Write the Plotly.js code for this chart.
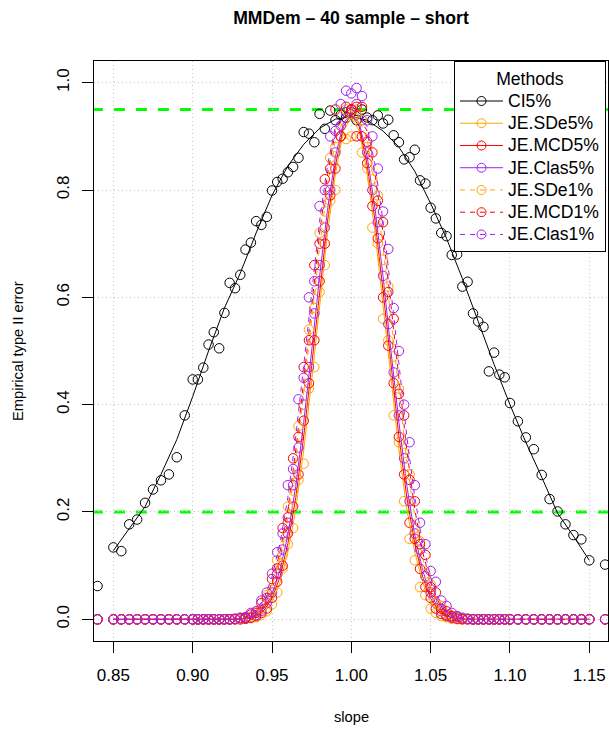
<!DOCTYPE html>
<html>
<head>
<meta charset="utf-8">
<script src="https://cdn.plot.ly/plotly-3.0.1.min.js"></script>
<style>html,body{margin:0;padding:0;background:#fff;}#chart{width:609px;height:734px;}</style>
</head>
<body>
<div id="chart"></div>
<script>
// slope grid (x values of the simulation points)
const slope = [0.84,0.85,0.855,0.86,0.865,0.87,0.875,0.88,0.885,0.89,0.895,
 0.9,0.9033,0.9067,0.91,0.9133,0.9167,0.92,0.9233,0.9267,0.93,0.9333,0.9367,0.94,0.9433,0.9467,0.95,0.9533,0.9567,0.96,0.9633,0.9667,0.97,0.9733,0.9767,0.98,0.9833,0.9867,0.99,0.9933,0.9967,
 1,1.0033,1.0067,1.01,1.0133,1.0167,1.02,1.0233,1.0267,1.03,1.0333,1.0367,1.04,1.0433,1.0467,1.05,1.0533,1.0567,1.06,1.0633,1.0667,1.07,1.0733,1.0767,1.08,1.0833,1.0867,1.09,1.0933,1.0967,1.1,
 1.105,1.11,1.115,1.12,1.125,1.13,1.135,1.14,1.145,1.15,1.16];

// empirical type II error (points)
const ci5 = [0.062,0.134,0.127,0.177,0.186,0.217,0.242,0.259,0.270,0.302,0.380,
 0.447,0.447,0.469,0.512,0.535,0.505,0.571,0.627,0.617,0.642,0.689,0.702,0.742,0.735,0.750,0.799,0.815,0.821,0.833,0.843,
 0.860,0.908,0.905,0.889,0.942,0.914,0.948,0.93,0.94,0.935,0.945,0.93,0.95,0.935,0.93,0.939,0.924,0.931,0.902,0.889,
 0.857,0.861,0.875,0.818,0.812,0.767,0.747,0.720,0.714,0.679,0.680,0.620,0.629,0.570,0.555,0.545,0.462,0.497,0.456,0.451,0.403,
 0.369,0.339,0.317,0.269,0.224,0.201,0.177,0.157,0.149,0.110,0.102];

const jeSDe5 = [0,0,0,0,0,0,0,0,0,0,0, 0,0,0,0,0,0,0,0,
 0,0,0.001,0.002,0.004,0.008,0.015,0.028,0.05,0.095,0.14,0.17,0.26,0.29,0.43,0.47,0.61,0.66,0.78,0.80,0.9,0.895,0.95,0.94,0.87,0.84,0.73,0.70,0.56,0.52,0.38,0.33,0.22,0.15,0.11,0.06,0.045,0.02,0.012,0.006,0.004,0.001,
 0,0,0,0,0,0,0,0,0,0,0, 0,0,0,0,0,0,0,0,0,0,0];

const jeMCD5 = [0,0,0,0,0,0,0,0,0,0,0, 0,0,0,0,0,0,0,0,
 0,0,0.001,0.003,0.006,0.012,0.02,0.04,0.07,0.10,0.16,0.21,0.27,0.37,0.44,0.52,0.63,0.70,0.79,0.84,0.9,0.945,0.95,0.955,0.9,0.85,0.77,0.71,0.6,0.51,0.44,0.34,0.27,0.18,0.15,0.094,0.06,0.04,0.02,0.01,0.006,0.003,0.001,
 0,0,0,0,0,0,0,0,0,0, 0,0,0,0,0,0,0,0,0,0,0];

const jeClas5 = [0,0,0,0,0,0,0,0,0,0,0, 0,0,0,0,0,0,0,0,
 0,0.001,0.002,0.004,0.008,0.016,0.03,0.05,0.085,0.13,0.18,0.25,0.32,0.40,0.47,0.57,0.66,0.73,0.8,0.87,0.92,0.945,0.95,0.96,0.93,0.87,0.8,0.74,0.64,0.55,0.46,0.38,0.3,0.22,0.16,0.13,0.08,0.05,0.03,0.015,0.008,0.004,0.002,0.001,
 0,0,0,0,0,0,0,0,0, 0,0,0,0,0,0,0,0,0,0,0];

const jeSDe1 = [0,0,0,0,0,0,0,0,0,0,0, 0,0,0,0,0,0,0,
 0,0,0.001,0.004,0.005,0.015,0.02,0.045,0.055,0.11,0.12,0.21,0.24,0.36,0.40,0.54,0.58,0.72,0.76,0.86,0.88,0.9,0.95,0.9,0.95,0.93,0.88,0.82,0.79,0.67,0.62,0.49,0.43,0.31,0.27,0.17,0.145,0.085,0.065,0.03,0.025,0.01,0.007,0.003,0.001,0,0,
 0,0,0,0,0,0,0, 0,0,0,0,0,0,0,0,0,0,0];

const jeMCD1 = [0,0,0,0,0,0,0,0,0,0,0, 0,0,0,0,0,0,0,
 0,0.001,0.002,0.003,0.009,0.012,0.03,0.04,0.075,0.095,0.17,0.19,0.3,0.34,0.47,0.52,0.66,0.7,0.82,0.84,0.95,0.9,0.955,0.95,0.9,0.955,0.89,0.87,0.78,0.74,0.61,0.56,0.42,0.38,0.26,0.22,0.14,0.12,0.06,0.05,0.02,0.015,0.006,0.005,0.001,0.001,0,
 0,0,0,0,0,0,0, 0,0,0,0,0,0,0,0,0,0,0];

const jeClas1 = [0,0,0,0,0,0,0,0,0,0,0, 0,0,0,0,0,0,0,
 0,0.001,0.003,0.004,0.012,0.015,0.035,0.05,0.085,0.125,0.16,0.25,0.28,0.41,0.45,0.6,0.63,0.77,0.8,0.9,0.91,0.96,0.985,0.98,0.99,0.975,0.93,0.9,0.84,0.76,0.69,0.58,0.5,0.4,0.33,0.25,0.18,0.14,0.09,0.07,0.035,0.025,0.012,0.006,0.003,0.001,0,
 0,0,0,0,0,0,0, 0,0,0,0,0,0,0,0,0,0,0];

// fitted curves
const fitSlopeCI = [0.85,0.86,0.87,0.88,0.89,0.9,0.91,0.92,0.93,0.94,0.95,0.96,0.97,0.98,0.99,1.0,1.01,1.02,1.03,1.04,1.05,1.06,1.07,1.08,1.09,1.1,1.11,1.12,1.13,1.14,1.15];
const fitCI5 = [0.128,0.168,0.21,0.27,0.335,0.415,0.50,0.58,0.645,0.72,0.79,0.845,0.885,0.915,0.932,0.937,0.93,0.91,0.88,0.835,0.775,0.71,0.635,0.555,0.475,0.40,0.33,0.265,0.198,0.155,0.11];

const fitSlopeJE = [0.85,0.92,0.925,0.93,0.935,0.94,0.945,0.95,0.955,0.96,0.965,0.97,0.975,0.98,0.985,0.99,0.995,1.0,1.005,1.01,1.015,1.02,1.025,1.03,1.035,1.04,1.045,1.05,1.055,1.06,1.065,1.07,1.075,1.08,1.15];
const fitSDe5 = [0,0,0,0,0.0015,0.005,0.013,0.032,0.068,0.125,0.205,0.315,0.445,0.585,0.72,0.83,0.91,0.935,0.91,0.83,0.72,0.585,0.445,0.315,0.205,0.125,0.068,0.032,0.013,0.005,0.0015,0,0,0,0];
const fitMCD5 = [0,0,0,0.0003,0.002,0.0066,0.017,0.039,0.079,0.141,0.227,0.341,0.473,0.612,0.742,0.846,0.918,0.94,0.918,0.846,0.742,0.612,0.473,0.341,0.227,0.141,0.079,0.039,0.017,0.0066,0.002,0.0003,0,0,0];
const fitClas5 = [0,0,0,0.0006,0.0027,0.0082,0.021,0.046,0.091,0.157,0.249,0.367,0.5,0.639,0.764,0.862,0.925,0.94,0.925,0.862,0.764,0.639,0.5,0.367,0.249,0.157,0.091,0.046,0.021,0.0082,0.0027,0.0006,0,0,0];
const fitSDe1 = [0,0,0,0.0012,0.0043,0.0114,0.028,0.061,0.114,0.189,0.293,0.419,0.557,0.693,0.808,0.894,0.93,0.94,0.93,0.894,0.808,0.693,0.557,0.419,0.293,0.189,0.114,0.061,0.028,0.0114,0.0043,0.0012,0,0,0];
const fitMCD1 = [0,0,0,0.0015,0.005,0.013,0.032,0.068,0.125,0.205,0.315,0.445,0.585,0.72,0.83,0.91,0.935,0.945,0.935,0.91,0.83,0.72,0.585,0.445,0.315,0.205,0.125,0.068,0.032,0.013,0.005,0.0015,0,0,0];
const fitClas1 = [0,0,0.0003,0.002,0.0066,0.017,0.039,0.079,0.141,0.227,0.341,0.473,0.612,0.742,0.846,0.918,0.94,0.95,0.94,0.918,0.846,0.742,0.612,0.473,0.341,0.227,0.141,0.079,0.039,0.017,0.0066,0.002,0.0003,0,0];

const methodNames = ['CI5%','JE.SDe5%','JE.MCD5%','JE.Clas5%','JE.SDe1%','JE.MCD1%','JE.Clas1%'];
const methodColors = ['#000000','#FFA500','#FF0000','#A020F0','#FFA500','#FF0000','#A020F0'];
const methodDash = ['solid','solid','solid','solid','5px,5px','5px,5px','5px,5px'];
const pointSeries = [ci5, jeSDe5, jeMCD5, jeClas5, jeSDe1, jeMCD1, jeClas1];
const fitX = [fitSlopeCI, fitSlopeJE, fitSlopeJE, fitSlopeJE, fitSlopeJE, fitSlopeJE, fitSlopeJE];
const fitY = [fitCI5, fitSDe5, fitMCD5, fitClas5, fitSDe1, fitMCD1, fitClas1];
const refLines = [0.95, 0.20];
const xTicks = [0.85,0.90,0.95,1.00,1.05,1.10,1.15];
const xTickText = ['0.85','0.90','0.95','1.00','1.05','1.10','1.15'];
const yTicks = [0,0.2,0.4,0.6,0.8,1.0];
const yTickText = ['0.0','0.2','0.4','0.6','0.8','1.0'];

const FONT = 'Liberation Sans, Arial, Helvetica, sans-serif';
const traces = [];
for (let i = 0; i < methodNames.length; i++) {
  traces.push({
    x: fitX[i], y: fitY[i], type: 'scatter', mode: 'lines',
    line: {color: methodColors[i], width: 1, dash: methodDash[i]},
    showlegend: false, hoverinfo: 'skip'
  });
  traces.push({
    x: slope, y: pointSeries[i], type: 'scatter', mode: 'markers',
    marker: {symbol: 'circle-open', size: 9.5, color: methodColors[i], line: {width: 1, color: methodColors[i]}},
    showlegend: false
  });
}
for (let i = 0; i < methodNames.length; i++) {
  traces.push({
    x: [null], y: [null], type: 'scatter', mode: 'lines+markers',
    name: '<span style="font-size:17.6px">' + methodNames[i] + '</span>',
    line: {color: methodColors[i], width: 1, dash: methodDash[i]},
    marker: {symbol: 'circle-open', size: 9, color: methodColors[i], line: {width: 1}},
    showlegend: true
  });
}

const shapes = refLines.map(v => ({
  type: 'line', xref: 'x', yref: 'y', x0: 0.8365, x1: 1.17, y0: v, y1: v,
  line: {color: '#00FF00', width: 3, dash: '11px,11px'}, layer: 'below'
}));

const layout = {
  width: 609, height: 734,
  margin: {l: 94, r: 1, t: 61, b: 93},
  paper_bgcolor: '#ffffff', plot_bgcolor: '#ffffff',
  font: {family: FONT, color: '#000000'},
  title: {text: '<b>MMDem – 40 sample – short</b>', font: {family: FONT, size: 17.6, color: '#000'},
          x: 0.5, xref: 'paper', y: 1 - 18/734, yref: 'container', yanchor: 'middle'},
  xaxis: {
    range: [0.8378, 1.1618], tickvals: xTicks, ticktext: xTickText,
    ticks: 'outside', ticklen: 11, tickwidth: 1, tickcolor: '#000', ticklabelstandoff: 8,
    showline: true, linecolor: '#000', linewidth: 1, mirror: true,
    showgrid: true, gridcolor: '#C8C8C8', griddash: '1px,3px', gridwidth: 1,
    zeroline: false, tickfont: {family: FONT, size: 17, color: '#000'}
  },
  yaxis: {
    range: [-0.0404, 1.0404], tickvals: yTicks, ticktext: yTickText,
    ticks: 'outside', ticklen: 11, tickwidth: 1, tickcolor: '#000', tickangle: -90, ticklabelstandoff: 6,
    showline: true, linecolor: '#000', linewidth: 1, mirror: true,
    showgrid: true, gridcolor: '#C8C8C8', griddash: '1px,3px', gridwidth: 1,
    zeroline: false, tickfont: {family: FONT, size: 17, color: '#000'}
  },
  shapes: shapes,
  annotations: [
    {text: 'slope', xref: 'paper', yref: 'paper', x: 0.5, y: (640.7 - 717) / 580, xanchor: 'center', yanchor: 'middle',
     showarrow: false, font: {family: FONT, size: 14.7, color: '#000'}},
    {text: 'Empirical type II error', xref: 'paper', yref: 'paper', x: (18 - 94) / 514, y: 0.5, xanchor: 'center', yanchor: 'middle',
     textangle: -90, showarrow: false, font: {family: FONT, size: 14.7, color: '#000'}}
  ],
  legend: {
    x: (454 - 94) / 514, y: 1, xanchor: 'left', yanchor: 'top',
    bgcolor: '#ffffff', bordercolor: '#000', borderwidth: 1,
    font: {family: FONT, size: 14.8, color: '#000'},
    title: {text: 'Methods', side: 'top center', font: {family: FONT, size: 17.6, color: '#000'}},
    traceorder: 'normal', itemwidth: 43
  },
  showlegend: true
};

Plotly.newPlot('chart', traces, layout, {displayModeBar: false, staticPlot: true});
</script>
</body>
</html>
